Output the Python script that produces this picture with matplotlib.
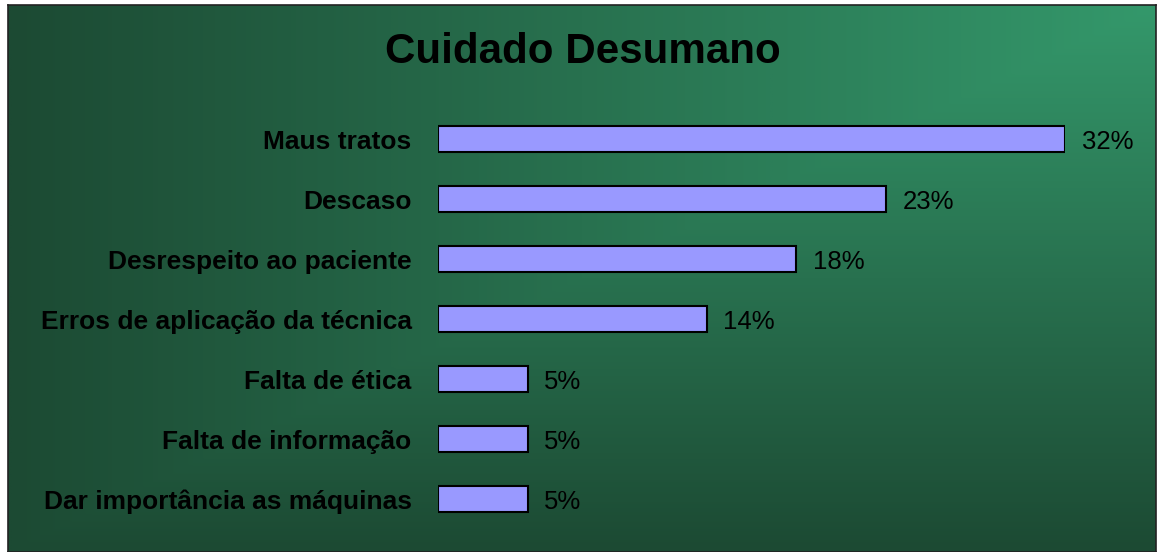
import matplotlib.pyplot as plt
import numpy as np
from matplotlib.colors import LinearSegmentedColormap

plt.rcParams['font.family'] = ['Liberation Sans', 'DejaVu Sans']

categories = ["Maus tratos", "Descaso", "Desrespeito ao paciente",
              "Erros de aplicação da técnica", "Falta de ética",
              "Falta de informação", "Dar importância as máquinas"]
counts = [7, 5, 4, 3, 1, 1, 1]
pct_labels = ["32%", "23%", "18%", "14%", "5%", "5%", "5%"]

fig = plt.figure(figsize=(11.6, 5.52), dpi=100)

# background panel with corner gradient (bright in the top right)
bg = fig.add_axes([8 / 1160, 0, 1148 / 1160, 547 / 552])
gx, gy = np.meshgrid(np.linspace(0, 1, 400), np.linspace(0, 1, 200))
t = np.maximum(1 - gx, gy)
cmap = LinearSegmentedColormap.from_list("bg", ["#34986B", "#1C4A33"])
bg.imshow(t, cmap=cmap, aspect="auto", extent=[0, 1, 1, 0], interpolation="bilinear")
bg.set_xticks([])
bg.set_yticks([])
for s in bg.spines.values():
    s.set_color("#222222")
    s.set_linewidth(1.2)

fig.text(583 / 1160, 1 - 52 / 552, "Cuidado Desumano", ha="center", va="center",
         fontsize=30.3, fontweight="bold", color="black")

ax = fig.add_axes([438 / 1160, 1 - 529 / 552, 627 / 1160, 420 / 552])
ax.patch.set_alpha(0)
y = np.arange(len(categories))
bars = ax.barh(y, counts, height=0.43, color="#9999FF", edgecolor="black", linewidth=1.5)
ax.set_xlim(0, 7)
ax.set_ylim(len(categories) - 0.5, -0.5)
ax.set_yticks(y)
ax.set_yticklabels(categories, fontsize=19, fontweight="bold")
ax.tick_params(axis="y", length=0, pad=19)
ax.set_xticks([])
for s in ax.spines.values():
    s.set_visible(False)

for rect, lab in zip(bars, pct_labels):
    ax.annotate(lab, (rect.get_width(), rect.get_y() + rect.get_height() / 2),
                xytext=(12, 0), textcoords="offset points", va="center_baseline",
                fontsize=18.5, annotation_clip=False)

fig.savefig("out.png", dpi=100)
